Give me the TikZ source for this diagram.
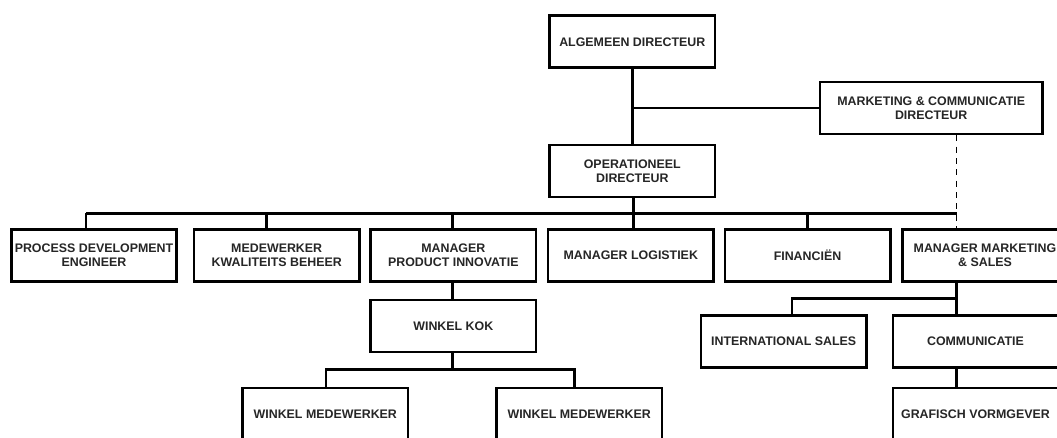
\documentclass[tikz,border=0pt]{standalone}
\usepackage{fontspec}
\setmainfont{Liberation Sans}
\usepackage{tikz}
\usetikzlibrary{positioning}
\definecolor{txt}{HTML}{262626}
\tikzstyle{org}=[draw,rectangle,fill=white,line width=2pt,minimum width=124pt,minimum height=39pt,inner sep=2pt,align=center,text=txt,font=\bfseries\fontsize{9.3}{10.4}\selectfont]
\tikzstyle{wide}=[org,minimum width=167pt]
\tikzstyle{link}=[line width=2pt]
\tikzstyle{dashlink}=[line width=1pt,dash pattern=on 4.5pt off 4pt]

\begin{document}
\begin{tikzpicture}[x=0.75pt,y=-0.75pt]
    \useasboundingbox (0,0) rectangle (1057,437);
    \clip (0,0) rectangle (1057,437);
    %\draw [help lines,step=50] (0,0) grid (1057,437);
    \node [org]  (alg)  at (632.3,41.8)  {ALGEMEEN DIRECTEUR};
    \node [wide] (mkt)  at (931.2,108)   {MARKETING \& COMMUNICATIE\\DIRECTEUR};
    \node [org]  (oper) at (632.3,171)   {OPERATIONEEL\\DIRECTEUR};

    \node [org] (proc) at (94,255.4)    {PROCESS DEVELOPMENT\\ENGINEER};
    \node [org] (kwal) at (276.7,255.4) {MEDEWERKER\\KWALITEITS BEHEER};
    \node [org] (mpi)  at (453.3,255.4) {MANAGER\\PRODUCT INNOVATIE};
    \node [org] (log)  at (630.8,255.4) {MANAGER LOGISTIEK};
    \node [org] (fin)  at (807.5,255.4) {FINANCIËN};
    \node [org] (mms)  at (985,255.4)   {MANAGER MARKETING\\\& SALES};

    \node [org] (kok)  at (453.3,326)   {WINKEL KOK};
    \node [org] (intl) at (783.7,341.6) {INTERNATIONAL SALES};
    \node [org] (comm) at (975.5,341.6) {COMMUNICATIE};

    \node [org] (wm1)  at (325.3,414)   {WINKEL MEDEWERKER};
    \node [org] (wm2)  at (579.2,414)   {WINKEL MEDEWERKER};
    \node [org] (graf) at (975.5,414)   {GRAFISCH VORMGEVER};

    \coordinate (b0) at (86,213.3);
    \coordinate (b1) at (266.7,213.3);
    \coordinate (b2) at (452.3,213.3);
    \coordinate (b3) at (633.3,213.3);
    \coordinate (b4) at (807.3,213.3);
    \coordinate (b5) at (956.7,213.3);
    \coordinate (k0) at (326,369.3);
    \coordinate (k1) at (574.3,369.3);
    \coordinate (m0) at (792,298.5);
    \coordinate (m1) at (956.3,298.5);

    \draw [link] (alg) -- (oper);
    \draw [link] (mkt.west) -- (mkt.west -| alg.south);
    \draw [link] (oper.south -| b3) -- (b3);
    \draw [link] (b0) -- (b5);
    \foreach \j/\n in {b0/proc,b1/kwal,b2/mpi,b3/log,b4/fin}
        \draw [link] (\j) -- (\j |- \n.north);
    \draw [dashlink] (mkt.south -| b5) -- (b5 |- mms.north);

    \draw [link] (mpi.south -| b2) -- (b2 |- kok.north);
    \draw [link] (kok.south -| b2) -- (b2 |- k0);
    \draw [link] (k0 |- wm1.north) -- (k0) -- (k1) -- (k1 |- wm2.north);

    \draw [link] (mms.south -| m1) -- (m1 |- comm.north);
    \draw [link] (m0 |- intl.north) -- (m0) -- (m1);
    \draw [link] (comm.south -| m1) -- (m1 |- graf.north);
\end{tikzpicture}
\end{document}
